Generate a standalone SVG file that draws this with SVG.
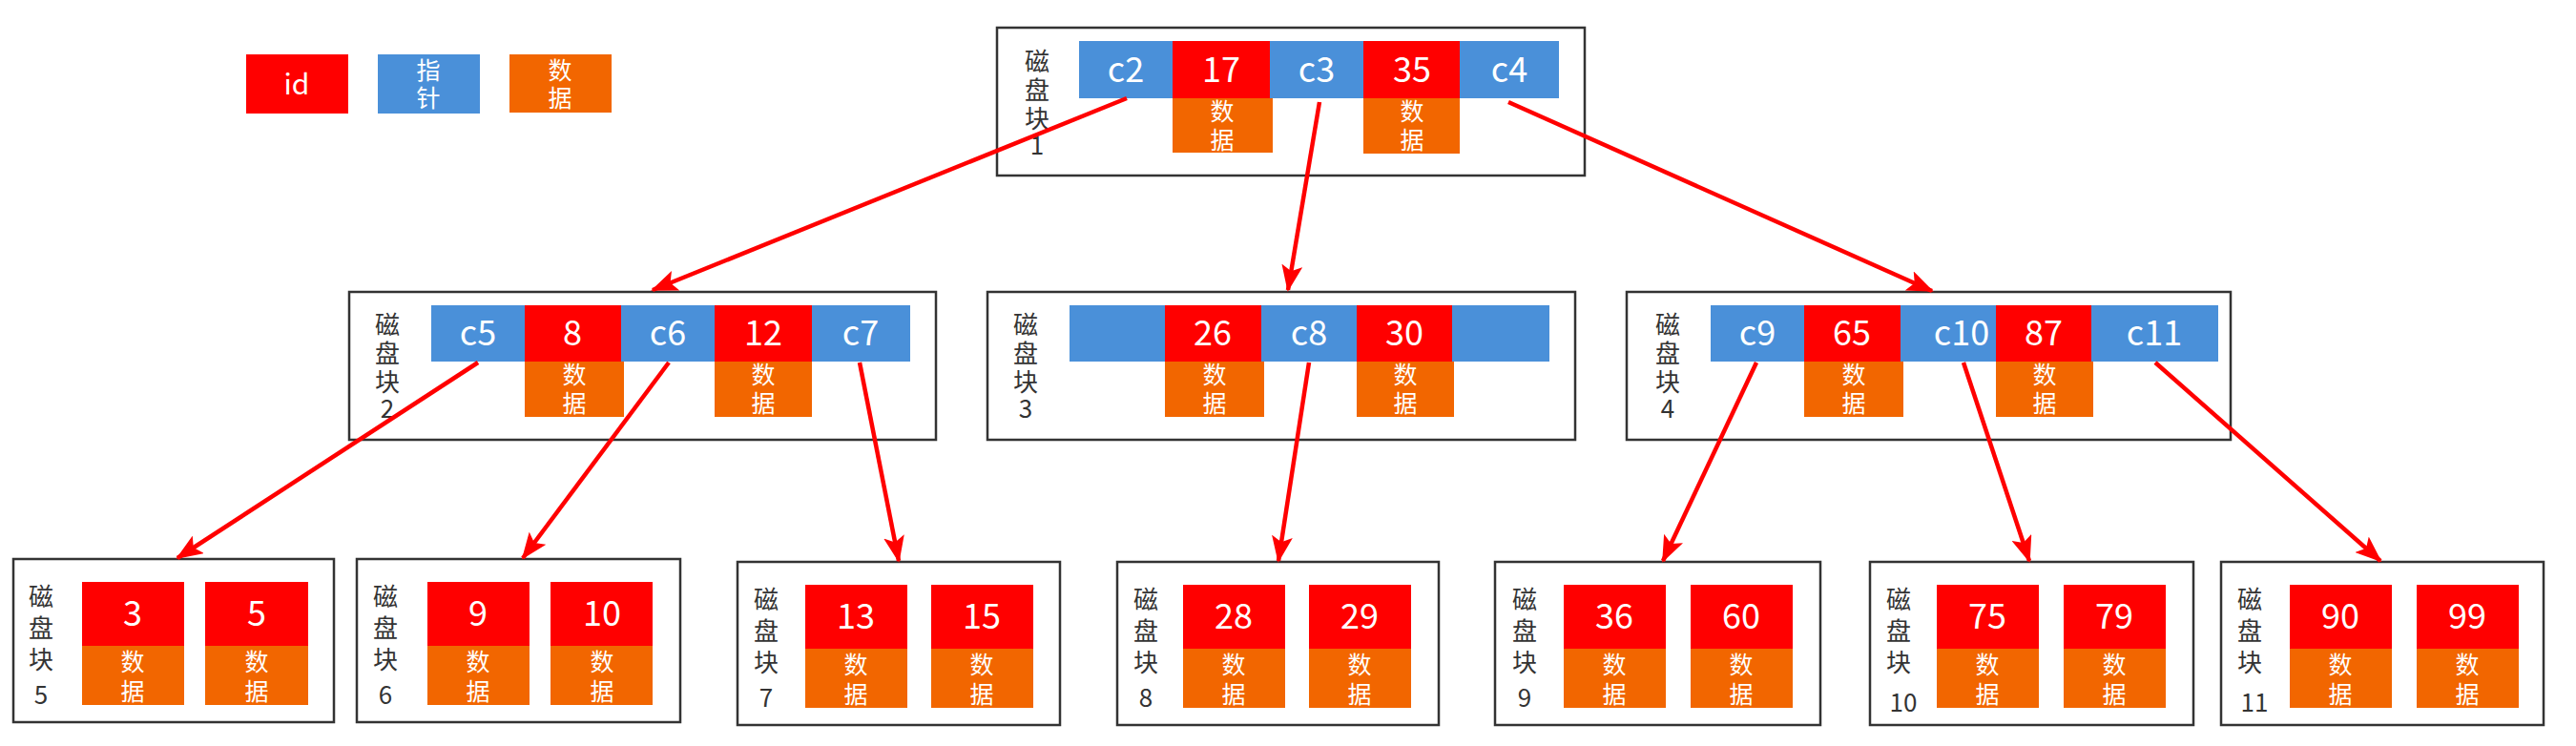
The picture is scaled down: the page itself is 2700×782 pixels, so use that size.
<svg xmlns="http://www.w3.org/2000/svg" width="2700" height="782" viewBox="0 0 2700 782">
<style>
text{font-family:"Noto Sans CJK SC","Liberation Sans",sans-serif;}
.box{fill:#fff;stroke:#333;stroke-width:2.5}
.id{fill:#ff0000}.ptr{fill:#4a90d9}.dat{fill:#f26600}
.t{fill:#fff;font-size:36px;text-anchor:middle}
.d{fill:#fff;font-size:25px;text-anchor:middle}
.lb{fill:#333;font-size:26px;text-anchor:middle}
.c{stroke:#ff0000;stroke-width:4.5;fill:none;marker-end:url(#ah)}
</style>
<defs>
<marker id="ah" markerUnits="userSpaceOnUse" markerWidth="28" markerHeight="22" refX="26" refY="11" orient="auto"><path d="M0,0 L28,11 L0,22 L6,11 Z" fill="#ff0000"/></marker>
</defs>
<g id="legend">
<rect class="id" x="258" y="57" width="107" height="62"/><text class="t" x="311" y="99" style="font-size:30px">id</text>
<rect class="ptr" x="396" y="57" width="107" height="62"/><text class="d" x="449" y="83">指</text><text class="d" x="449" y="112">针</text>
<rect class="dat" x="534" y="57" width="107" height="61"/><text class="d" x="587" y="83">数</text><text class="d" x="587" y="112">据</text>
</g>
<g id="node1">
<rect class="box" x="1045" y="29" width="616" height="155"/>
<text class="lb" x="1087" y="74">磁</text><text class="lb" x="1087" y="104">盘</text><text class="lb" x="1087" y="134">块</text><text class="lb" x="1087" y="162">1</text>
<rect class="ptr" x="1131" y="43" width="98" height="60"/><text class="t" x="1180" y="86">c2</text>
<rect class="id" x="1229" y="43" width="102" height="60"/><text class="t" x="1280" y="86">17</text>
<rect class="ptr" x="1331" y="43" width="98" height="60"/><text class="t" x="1380" y="86">c3</text>
<rect class="id" x="1429" y="43" width="101" height="60"/><text class="t" x="1480" y="86">35</text>
<rect class="ptr" x="1530" y="43" width="104" height="60"/><text class="t" x="1582" y="86">c4</text>
<rect class="dat" x="1229" y="103" width="105" height="57"/><text class="d" x="1281" y="126">数</text><text class="d" x="1281" y="156">据</text>
<rect class="dat" x="1429" y="103" width="101" height="58"/><text class="d" x="1480" y="126">数</text><text class="d" x="1480" y="156">据</text>
</g>
<g id="node2">
<rect class="box" x="366" y="306" width="615" height="155"/>
<text class="lb" x="406" y="350">磁</text><text class="lb" x="406" y="380">盘</text><text class="lb" x="406" y="410">块</text><text class="lb" x="406" y="438">2</text>
<rect class="ptr" x="452" y="320" width="98" height="59"/><text class="t" x="501" y="362">c5</text>
<rect class="id" x="550" y="320" width="101" height="59"/><text class="t" x="600" y="362">8</text>
<rect class="ptr" x="651" y="320" width="98" height="59"/><text class="t" x="700" y="362">c6</text>
<rect class="id" x="749" y="320" width="102" height="59"/><text class="t" x="800" y="362">12</text>
<rect class="ptr" x="851" y="320" width="103" height="59"/><text class="t" x="902" y="362">c7</text>
<rect class="dat" x="550" y="379" width="104" height="58"/><text class="d" x="602" y="402">数</text><text class="d" x="602" y="432">据</text>
<rect class="dat" x="749" y="379" width="102" height="58"/><text class="d" x="800" y="402">数</text><text class="d" x="800" y="432">据</text>
</g>
<g id="node3">
<rect class="box" x="1035" y="306" width="616" height="155"/>
<text class="lb" x="1075" y="350">磁</text><text class="lb" x="1075" y="380">盘</text><text class="lb" x="1075" y="410">块</text><text class="lb" x="1075" y="438">3</text>
<rect class="ptr" x="1121" y="320" width="100" height="59"/>
<rect class="id" x="1221" y="320" width="101" height="59"/><text class="t" x="1271" y="362">26</text>
<rect class="ptr" x="1322" y="320" width="100" height="59"/><text class="t" x="1372" y="362">c8</text>
<rect class="id" x="1422" y="320" width="100" height="59"/><text class="t" x="1472" y="362">30</text>
<rect class="ptr" x="1522" y="320" width="102" height="59"/>
<rect class="dat" x="1221" y="379" width="104" height="58"/><text class="d" x="1273" y="402">数</text><text class="d" x="1273" y="432">据</text>
<rect class="dat" x="1422" y="379" width="102" height="58"/><text class="d" x="1473" y="402">数</text><text class="d" x="1473" y="432">据</text>
</g>
<g id="node4">
<rect class="box" x="1705" y="306" width="633" height="155"/>
<text class="lb" x="1748" y="350">磁</text><text class="lb" x="1748" y="380">盘</text><text class="lb" x="1748" y="410">块</text><text class="lb" x="1748" y="438">4</text>
<rect class="ptr" x="1793" y="320" width="98" height="59"/><text class="t" x="1842" y="362">c9</text>
<rect class="id" x="1891" y="320" width="101" height="59"/><text class="t" x="1941" y="362">65</text>
<rect class="ptr" x="1992" y="320" width="100" height="59"/><text class="t" x="2056" y="362">c10</text>
<rect class="id" x="2092" y="320" width="100" height="59"/><text class="t" x="2142" y="362">87</text>
<rect class="ptr" x="2192" y="320" width="133" height="59"/><text class="t" x="2258" y="362">c11</text>
<rect class="dat" x="1891" y="379" width="104" height="58"/><text class="d" x="1943" y="402">数</text><text class="d" x="1943" y="432">据</text>
<rect class="dat" x="2092" y="379" width="102" height="58"/><text class="d" x="2143" y="402">数</text><text class="d" x="2143" y="432">据</text>
</g>
<g id="leaf5">
<rect class="box" x="14" y="586" width="336" height="171"/>
<text class="lb" x="43" y="635">磁</text><text class="lb" x="43" y="668">盘</text><text class="lb" x="43" y="701">块</text><text class="lb" x="43" y="738">5</text>
<rect class="id" x="86" y="610" width="107" height="67"/><text class="t" x="139" y="656">3</text>
<rect class="dat" x="86" y="677" width="107" height="62"/><text class="d" x="139" y="703">数</text><text class="d" x="139" y="734">据</text>
<rect class="id" x="215" y="610" width="108" height="67"/><text class="t" x="269" y="656">5</text>
<rect class="dat" x="215" y="677" width="108" height="62"/><text class="d" x="269" y="703">数</text><text class="d" x="269" y="734">据</text>
</g>
<g id="leaf6">
<rect class="box" x="374" y="586" width="339" height="171"/>
<text class="lb" x="404" y="635">磁</text><text class="lb" x="404" y="668">盘</text><text class="lb" x="404" y="701">块</text><text class="lb" x="404" y="738">6</text>
<rect class="id" x="448" y="610" width="107" height="67"/><text class="t" x="501" y="656">9</text>
<rect class="dat" x="448" y="677" width="107" height="62"/><text class="d" x="501" y="703">数</text><text class="d" x="501" y="734">据</text>
<rect class="id" x="577" y="610" width="107" height="67"/><text class="t" x="631" y="656">10</text>
<rect class="dat" x="577" y="677" width="107" height="62"/><text class="d" x="631" y="703">数</text><text class="d" x="631" y="734">据</text>
</g>
<g id="leaf7">
<rect class="box" x="773" y="589" width="338" height="171"/>
<text class="lb" x="803" y="638">磁</text><text class="lb" x="803" y="671">盘</text><text class="lb" x="803" y="704">块</text><text class="lb" x="803" y="741">7</text>
<rect class="id" x="844" y="613" width="107" height="67"/><text class="t" x="897" y="659">13</text>
<rect class="dat" x="844" y="680" width="107" height="62"/><text class="d" x="897" y="706">数</text><text class="d" x="897" y="737">据</text>
<rect class="id" x="976" y="613" width="107" height="67"/><text class="t" x="1029" y="659">15</text>
<rect class="dat" x="976" y="680" width="107" height="62"/><text class="d" x="1029" y="706">数</text><text class="d" x="1029" y="737">据</text>
</g>
<g id="leaf8">
<rect class="box" x="1171" y="589" width="337" height="171"/>
<text class="lb" x="1201" y="638">磁</text><text class="lb" x="1201" y="671">盘</text><text class="lb" x="1201" y="704">块</text><text class="lb" x="1201" y="741">8</text>
<rect class="id" x="1240" y="613" width="107" height="67"/><text class="t" x="1293" y="659">28</text>
<rect class="dat" x="1240" y="680" width="107" height="62"/><text class="d" x="1293" y="706">数</text><text class="d" x="1293" y="737">据</text>
<rect class="id" x="1372" y="613" width="107" height="67"/><text class="t" x="1425" y="659">29</text>
<rect class="dat" x="1372" y="680" width="107" height="62"/><text class="d" x="1425" y="706">数</text><text class="d" x="1425" y="737">据</text>
</g>
<g id="leaf9">
<rect class="box" x="1567" y="589" width="341" height="171"/>
<text class="lb" x="1598" y="638">磁</text><text class="lb" x="1598" y="671">盘</text><text class="lb" x="1598" y="704">块</text><text class="lb" x="1598" y="741">9</text>
<rect class="id" x="1639" y="613" width="107" height="67"/><text class="t" x="1692" y="659">36</text>
<rect class="dat" x="1639" y="680" width="107" height="62"/><text class="d" x="1692" y="706">数</text><text class="d" x="1692" y="737">据</text>
<rect class="id" x="1772" y="613" width="107" height="67"/><text class="t" x="1825" y="659">60</text>
<rect class="dat" x="1772" y="680" width="107" height="62"/><text class="d" x="1825" y="706">数</text><text class="d" x="1825" y="737">据</text>
</g>
<g id="leaf10">
<rect class="box" x="1960" y="589" width="339" height="171"/>
<text class="lb" x="1990" y="638">磁</text><text class="lb" x="1990" y="671">盘</text><text class="lb" x="1990" y="704">块</text><text class="lb" x="1995" y="746">10</text>
<rect class="id" x="2030" y="613" width="107" height="67"/><text class="t" x="2083" y="659">75</text>
<rect class="dat" x="2030" y="680" width="107" height="62"/><text class="d" x="2083" y="706">数</text><text class="d" x="2083" y="737">据</text>
<rect class="id" x="2163" y="613" width="107" height="67"/><text class="t" x="2216" y="659">79</text>
<rect class="dat" x="2163" y="680" width="107" height="62"/><text class="d" x="2216" y="706">数</text><text class="d" x="2216" y="737">据</text>
</g>
<g id="leaf11">
<rect class="box" x="2328" y="589" width="338" height="171"/>
<text class="lb" x="2358" y="638">磁</text><text class="lb" x="2358" y="671">盘</text><text class="lb" x="2358" y="704">块</text><text class="lb" x="2363" y="746">11</text>
<rect class="id" x="2400" y="613" width="107" height="67"/><text class="t" x="2453" y="659">90</text>
<rect class="dat" x="2400" y="680" width="107" height="62"/><text class="d" x="2453" y="706">数</text><text class="d" x="2453" y="737">据</text>
<rect class="id" x="2533" y="613" width="107" height="67"/><text class="t" x="2586" y="659">99</text>
<rect class="dat" x="2533" y="680" width="107" height="62"/><text class="d" x="2586" y="706">数</text><text class="d" x="2586" y="737">据</text>
</g>
<g id="connectors">
<line class="c" x1="1181" y1="103" x2="684" y2="304"/>
<line class="c" x1="1383" y1="107" x2="1350" y2="304"/>
<line class="c" x1="1581" y1="107" x2="2025" y2="305"/>
<line class="c" x1="501" y1="380" x2="186" y2="585"/>
<line class="c" x1="701" y1="380" x2="548" y2="585"/>
<line class="c" x1="901" y1="380" x2="942" y2="588"/>
<line class="c" x1="1372" y1="380" x2="1340" y2="588"/>
<line class="c" x1="1841" y1="380" x2="1743" y2="588"/>
<line class="c" x1="2058" y1="380" x2="2127" y2="588"/>
<line class="c" x1="2259" y1="380" x2="2495" y2="588"/>
</g>
</svg>
